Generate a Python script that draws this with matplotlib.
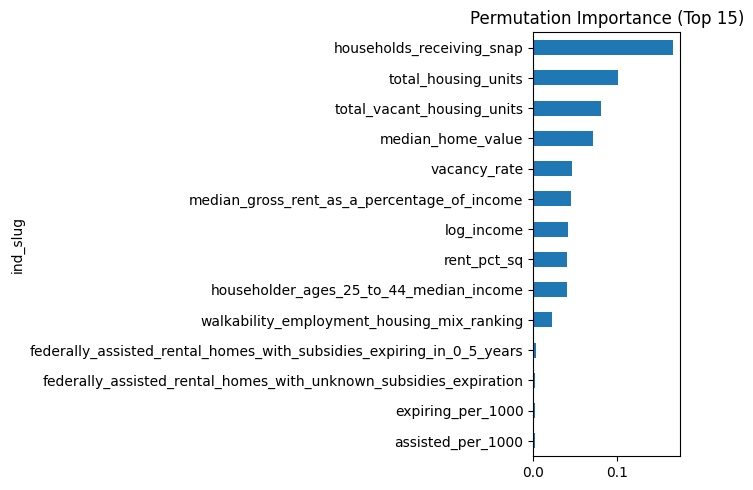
import matplotlib
matplotlib.use("Agg")
import matplotlib.pyplot as plt
from matplotlib.ticker import MultipleLocator
import pandas as pd

features = [
    "households_receiving_snap",
    "total_housing_units",
    "total_vacant_housing_units",
    "median_home_value",
    "vacancy_rate",
    "median_gross_rent_as_a_percentage_of_income",
    "log_income",
    "rent_pct_sq",
    "householder_ages_25_to_44_median_income",
    "walkability_employment_housing_mix_ranking",
    "federally_assisted_rental_homes_with_subsidies_expiring_in_0_5_years",
    "federally_assisted_rental_homes_with_unknown_subsidies_expiration",
    "expiring_per_1000",
    "assisted_per_1000",
]
importances = [0.1671, 0.1012, 0.0808, 0.0712, 0.0460, 0.0448, 0.0416,
               0.0401, 0.0400, 0.0222, 0.0033, 0.0021, 0.0021, 0.0021]

s = pd.Series(importances, index=pd.Index(features, name="ind_slug"))

W, H = 753, 490
fig = plt.figure(figsize=(W / 100, H / 100), dpi=100)
ax = fig.add_axes([533.3 / W, 1 - 456 / H, (680.3 - 533.3) / W, (456 - 32.5) / H])
s.iloc[::-1].plot(kind="barh", ax=ax, color="#1f77b4")
ax.xaxis.set_major_locator(MultipleLocator(0.1))
ax.set_title("Permutation Importance (Top 15)")
fig.savefig("out.png", dpi=100)
